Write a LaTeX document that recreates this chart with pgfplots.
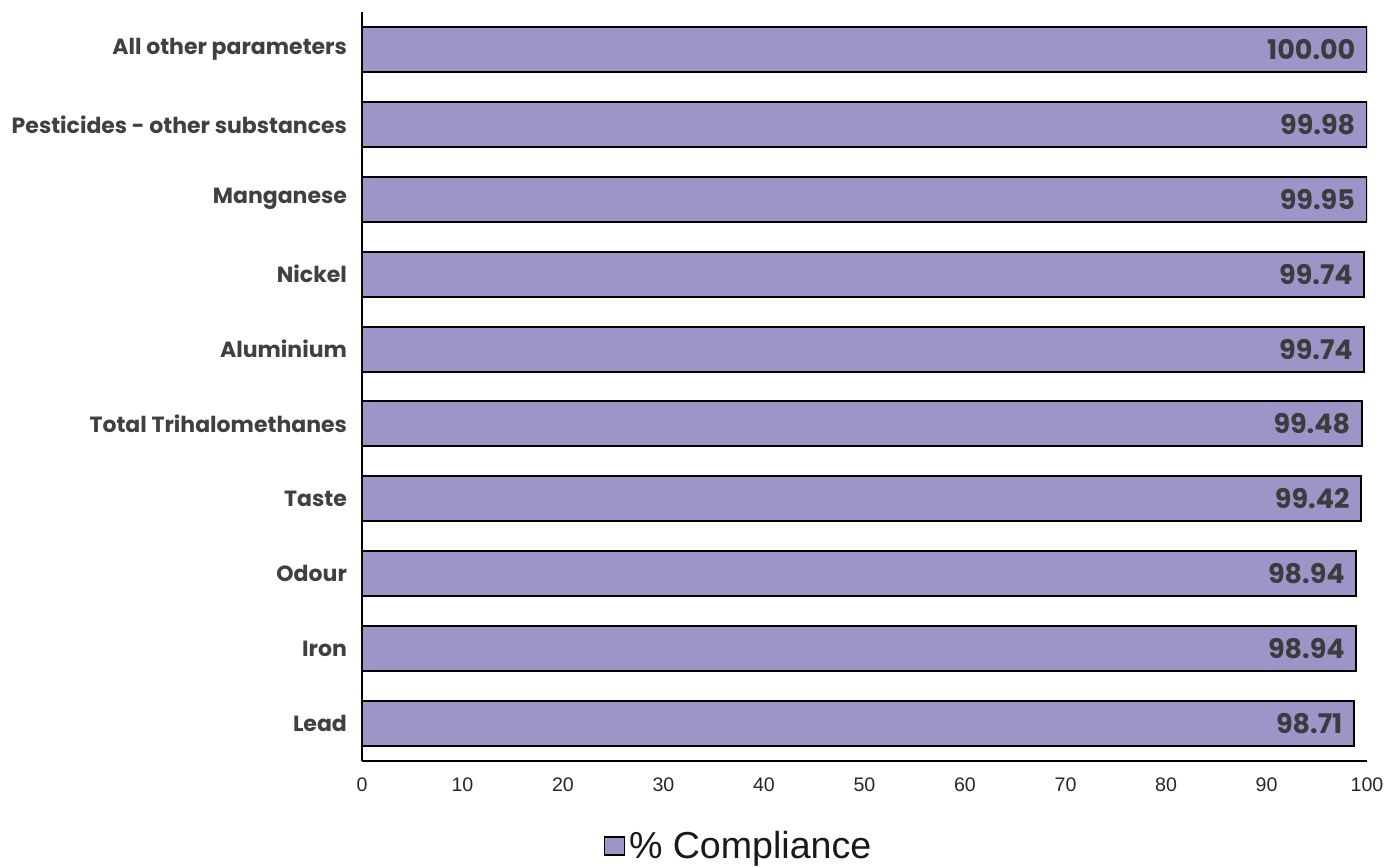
\documentclass[border=0pt]{standalone}
\usepackage{pgfplots}
\pgfplotsset{compat=1.18}
\usepackage{fontspec}
\setmainfont{Poppins}
\newfontfamily\helv{Liberation Sans}
\definecolor{barfill}{RGB}{157,149,199}
\definecolor{bartext}{RGB}{60,60,62}
\definecolor{labtext}{RGB}{64,64,66}
\begin{document}
\begin{tikzpicture}
\path[use as bounding box] (-181pt,-53pt) rectangle (517.5pt,380.5pt);
\begin{axis}[
  scale only axis,
  width=502.5pt, height=374.5pt,
  xbar, bar width=22.5pt,
  xmin=0, xmax=100, ymin=-0.5, ymax=9.5,
  xtick={0,10,...,100},
  ytick={0,...,9},
  yticklabels={Lead,Iron,Odour,Taste,Total Trihalomethanes,Aluminium,Nickel,Manganese,Pesticides - other substances,All other parameters},
  axis x line*=bottom, axis y line*=left,
  axis line style={-, black, line width=0.8pt},
  major tick length=0pt,
  /pgf/number format/assume math mode=true,
  xticklabel style={font=\helv\fontsize{9.8}{11}\selectfont, text=black!85, yshift=-5pt},
  yticklabel style={font=\bfseries\fontsize{11}{13}\selectfont, text=labtext, xshift=-4pt},
  nodes near coords,
  every node near coord/.append style={/pgf/number format/fixed, /pgf/number format/precision=2, /pgf/number format/zerofill, anchor=east, xshift=-2pt, font=\bfseries\fontsize{13.5}{16}\selectfont, text=bartext},
  legend style={at={(0.24,-0.1135)}, anchor=west, draw=none, fill=none, font=\helv\fontsize{18.8}{22}\selectfont, text=black!90, inner sep=0pt},
  legend image code/.code={\draw[#1, line width=0.7pt] (0pt,-4.5pt) rectangle (10pt,4.5pt);},
]
\addplot[fill=barfill, draw=black, line width=1pt] coordinates {
(98.71,0) (98.94,1) (98.94,2) (99.42,3) (99.48,4) (99.74,5) (99.74,6) (99.95,7) (99.98,8) (100.00,9)};
\addlegendentry{\% Compliance}
\end{axis}
\end{tikzpicture}
\end{document}
